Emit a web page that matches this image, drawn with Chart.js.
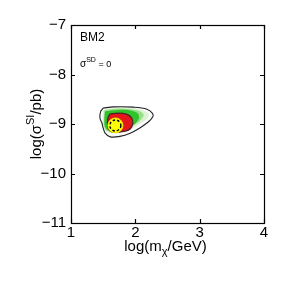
<!DOCTYPE html>
<html>
<head>
<meta charset="utf-8">
<script src="https://cdn.jsdelivr.net/npm/chart.js@4.4.0/dist/chart.umd.min.js"></script>
<style>
  body { margin: 0; background: #fff; }
</style>
</head>
<body>
<canvas id="c" width="291" height="291"></canvas>
<script>
// axis ticks
const xTicks = [1, 2, 3, 4];
const yTicks = [-11, -10, -9, -8, -7];

// outer (black) contour, [log m, log sigma]
const outerContour = [
  [1.50, -8.68], [1.66, -8.655], [1.97, -8.66], [2.18, -8.70], [2.27, -8.79],
  [2.27, -8.86], [2.20, -8.96], [2.07, -9.08], [1.92, -9.185], [1.76, -9.25],
  [1.61, -9.26], [1.53, -9.185], [1.50, -9.08], [1.48, -8.98], [1.45, -8.88],
  [1.46, -8.75]
];

// green posterior levels, light -> strong
const greenLight = [
  [1.50, -8.71], [1.69, -8.67], [1.92, -8.67], [2.10, -8.71], [2.21, -8.79],
  [2.19, -8.89], [2.08, -8.99], [1.93, -9.10], [1.73, -9.17], [1.57, -9.17],
  [1.50, -9.06], [1.49, -8.89]
];
const greenMid = [
  [1.52, -8.72], [1.70, -8.69], [1.92, -8.70], [2.07, -8.74], [2.13, -8.82],
  [2.07, -8.94], [1.93, -9.05], [1.73, -9.14], [1.56, -9.14], [1.515, -9.04],
  [1.51, -8.89]
];
const greenStrong = [
  [1.53, -8.74], [1.72, -8.715], [1.90, -8.72], [2.02, -8.77], [2.06, -8.86],
  [2.01, -8.98], [1.90, -9.07], [1.71, -9.14], [1.57, -9.12], [1.525, -9.04],
  [1.52, -8.89]
];

// red (inner) region
const redRegion = [
  [1.60, -8.80], [1.74, -8.78], [1.86, -8.80], [1.94, -8.87], [1.96, -8.99],
  [1.92, -9.10], [1.82, -9.15], [1.68, -9.17], [1.60, -9.13], [1.57, -9.04],
  [1.57, -8.90]
];

// best fit point
const bestFit = { x: 1.69, y: -9.03 };

function toPts(list) {
  const pts = list.map(p => ({ x: p[0], y: p[1] }));
  pts.push(pts[0]);
  return pts;
}

function shape(data, fill, border, width, order) {
  return {
    type: 'scatter',
    data: toPts(data),
    showLine: true,
    fill: fill ? 'shape' : false,
    backgroundColor: fill || 'rgba(0,0,0,0)',
    borderColor: border,
    borderWidth: width,
    tension: 0.35,
    pointRadius: 0,
    order: order
  };
}

const FONT = '"Liberation Sans", Arial, sans-serif';

const decor = {
  id: 'decor',
  afterDatasetsDraw(chart) {
    const ctx = chart.ctx;
    // dashed ring on the best fit
    const el = chart.getDatasetMeta(5).data[0];
    ctx.save();
    ctx.beginPath();
    ctx.arc(el.x, el.y, 5.5, 0, Math.PI * 2);
    ctx.setLineDash([2.5, 2]);
    ctx.lineWidth = 1.4;
    ctx.strokeStyle = '#000';
    ctx.stroke();
    ctx.restore();
  },
  afterDraw(chart) {
    const ctx = chart.ctx;
    const a = chart.chartArea;
    const xs = chart.scales.x, ys = chart.scales.y;
    ctx.save();
    ctx.strokeStyle = '#000';
    ctx.lineWidth = 1.2;
    ctx.strokeRect(Math.round(a.left) + 0.5, Math.round(a.top) + 0.5,
      Math.round(a.right - a.left), Math.round(a.bottom - a.top));

    // inward ticks on all sides
    ctx.beginPath();
    xTicks.forEach(v => {
      const p = Math.round(xs.getPixelForValue(v)) + 0.5;
      ctx.moveTo(p, a.bottom); ctx.lineTo(p, a.bottom - 4);
      ctx.moveTo(p, a.top); ctx.lineTo(p, a.top + 4);
    });
    yTicks.forEach(v => {
      const p = Math.round(ys.getPixelForValue(v)) + 0.5;
      ctx.moveTo(a.left, p); ctx.lineTo(a.left + 4, p);
      ctx.moveTo(a.right, p); ctx.lineTo(a.right - 4, p);
    });
    ctx.stroke();

    ctx.fillStyle = '#000';
    ctx.textBaseline = 'alphabetic';

    // x title: log(m_chi/GeV)
    const main = '15px ' + FONT, sub = '11px ' + FONT;
    ctx.font = main;
    const w1 = ctx.measureText('log(m').width;
    const w3 = ctx.measureText('/GeV)').width;
    ctx.font = sub;
    const w2 = ctx.measureText('\u03c7').width;
    let x0 = (a.left + a.right) / 2 - 2 - (w1 + w2 + w3) / 2;
    const yb = 251;
    ctx.font = main; ctx.textAlign = 'left';
    ctx.fillText('log(m', x0, yb);
    ctx.font = sub;
    ctx.fillText('\u03c7', x0 + w1, yb + 4);
    ctx.font = main;
    ctx.fillText('/GeV)', x0 + w1 + w2, yb);

    // y title: log(sigma^SI/pb)
    ctx.save();
    ctx.translate(41, (a.top + a.bottom) / 2);
    ctx.rotate(-Math.PI / 2);
    ctx.font = main;
    const t1 = ctx.measureText('log(\u03c3').width;
    const t3 = ctx.measureText('/pb)').width;
    ctx.font = sub;
    const t2 = ctx.measureText('SI').width;
    let s0 = -(t1 + t2 + t3) / 2;
    ctx.font = main;
    ctx.fillText('log(\u03c3', s0, 0);
    ctx.font = sub;
    ctx.fillText('SI', s0 + t1, -7);
    ctx.font = main;
    ctx.fillText('/pb)', s0 + t1 + t2, 0);
    ctx.restore();

    // annotations
    ctx.font = '12px ' + FONT;
    ctx.fillText('BM2', a.left + 9, 41);
    ctx.font = '10px ' + FONT;
    const sw = ctx.measureText('\u03c3').width;
    ctx.fillText('\u03c3', a.left + 9, 67);
    ctx.font = '7px ' + FONT;
    const sdw = ctx.measureText('SD').width;
    ctx.fillText('SD', a.left + 9 + sw, 62);
    ctx.font = '9px ' + FONT;
    ctx.fillText(' = 0', a.left + 9 + sw + sdw, 67);
    ctx.restore();
  }
};

const minus = v => (v < 0 ? '\u2212' + Math.abs(v) : String(v));

new Chart(document.getElementById('c'), {
  type: 'scatter',
  data: {
    datasets: [
      shape(outerContour, null, '#222', 1.1, 3),
      shape(greenLight, '#dcf3d6', 'rgba(0,0,0,0)', 0, 9),
      shape(greenMid, '#99df8a', 'rgba(0,0,0,0)', 0, 8),
      shape(greenStrong, '#2fc42d', 'rgba(0,0,0,0)', 0, 7),
      shape(redRegion, '#e3161b', '#4a2222', 1.2, 4),
      {
        type: 'scatter',
        data: [bestFit],
        pointRadius: 7.5,
        backgroundColor: '#ffff00',
        borderColor: '#f0f000',
        borderWidth: 1,
        order: 1
      }
    ]
  },
  options: {
    responsive: false,
    animation: false,
    layout: { padding: { left: 0, top: 25, right: 27, bottom: 0 } },
    plugins: { legend: { display: false }, tooltip: { enabled: false } },
    scales: {
      x: {
        type: 'linear', min: 1, max: 4,
        afterFit: s => { s.height = 68; },
        afterBuildTicks: s => { s.ticks = xTicks.map(v => ({ value: v })); },
        grid: { display: false, drawTicks: false, tickLength: 0 }, border: { display: false },
        ticks: { color: '#000', font: { family: FONT, size: 15 }, padding: 1, callback: minus }
      },
      y: {
        type: 'linear', min: -11, max: -7,
        afterFit: s => { s.width = 71; },
        afterBuildTicks: s => { s.ticks = yTicks.map(v => ({ value: v })); },
        grid: { display: false, drawTicks: false, tickLength: 0 }, border: { display: false },
        ticks: { color: '#000', font: { family: FONT, size: 15 }, padding: 5, callback: minus }
      }
    }
  },
  plugins: [decor]
});
</script>
</body>
</html>
